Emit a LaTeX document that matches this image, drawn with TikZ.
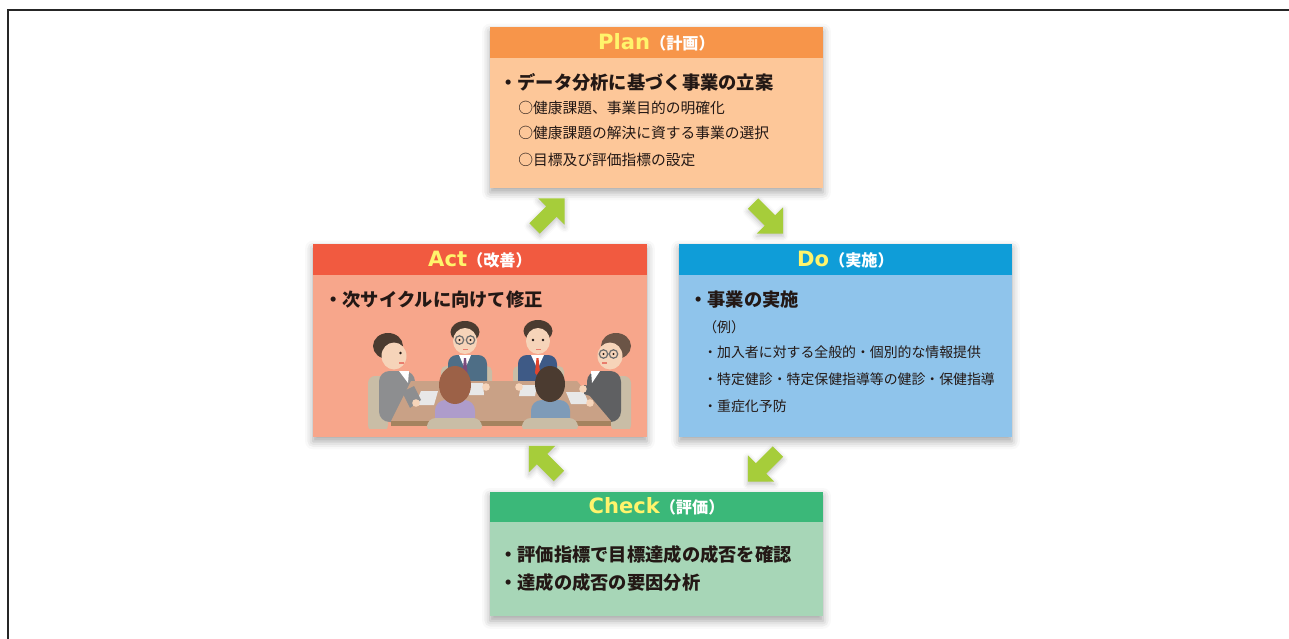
\documentclass[tikz,border=0pt]{standalone}
\usepackage{fontspec}
\setmainfont{Noto Sans CJK JP}
\newfontfamily\latinhead{DejaVu Sans}
\usetikzlibrary{shapes.arrows,shadows.blur}

% phase colours
\definecolor{planhead}{HTML}{F7954A}
\definecolor{planbody}{HTML}{FDC799}
\definecolor{acthead}{HTML}{F15A40}
\definecolor{actbody}{HTML}{F7A68B}
\definecolor{dohead}{HTML}{0F9DD8}
\definecolor{dobody}{HTML}{8FC4EB}
\definecolor{checkhead}{HTML}{3BB879}
\definecolor{checkbody}{HTML}{A7D6B7}
\definecolor{cyclegreen}{HTML}{A6CD3A}
\definecolor{titleyellow}{HTML}{FFF46C}
\definecolor{textdark}{HTML}{231815}
% meeting scene colours
\definecolor{chairbeige}{HTML}{C9BDA6}
\definecolor{tabletan}{HTML}{C9A186}
\definecolor{tableedge}{HTML}{A5835F}
\definecolor{paper}{HTML}{E8E8E8}
\definecolor{skin}{HTML}{F6D4B9}
\definecolor{hairdark}{HTML}{4B3B30}
\definecolor{hairbrown}{HTML}{9C6147}
\definecolor{hairgrey}{HTML}{6B5446}
\definecolor{suitteal}{HTML}{4E6E86}
\definecolor{suitnavy}{HTML}{3E5A86}
\definecolor{suitgrey}{HTML}{8D8E90}
\definecolor{suitdark}{HTML}{5F6062}
\definecolor{lavender}{HTML}{AE9CCB}
\definecolor{bluegrey}{HTML}{7E9BB8}
\definecolor{tiepurple}{HTML}{7A4C7C}
\definecolor{tiered}{HTML}{E0452F}
\definecolor{glassgrey}{HTML}{6E6E6E}

\newcommand{\phasetitle}[2]{{\latinhead\bfseries\fontsize{12}{13}\selectfont\color{titleyellow}#1}{\bfseries\fontsize{9.2}{10}\selectfont\color{white}#2}}

\tikzset{
  phasebox/.style={minimum width=6.66cm, inner sep=0,
    blur shadow={shadow xshift=0pt, shadow yshift=-2.5pt, shadow blur radius=4.5pt, shadow opacity=35}},
  phasehead/.style={anchor=north, minimum width=6.66cm, minimum height=0.61cm, inner sep=0},
  bullet/.style={anchor=west, inner sep=0, text=textdark, font=\bfseries\fontsize{10.4}{12}\selectfont},
  item/.style={anchor=west, inner sep=0, text=textdark, font=\fontsize{8.4}{10}\selectfont},
  smallitem/.style={anchor=west, inner sep=0, text=textdark, font=\fontsize{7.9}{9}\selectfont},
  cyclearrow/.style={single arrow, fill=cyclegreen, inner xsep=0pt, inner ysep=0.14cm,
    minimum height=0.85cm, minimum width=0.73cm, single arrow head extend=0.225cm,
    single arrow tip angle=90, single arrow head indent=0pt,
    blur shadow={shadow xshift=0pt, shadow yshift=-1.5pt, shadow blur radius=3pt, shadow opacity=25}}
}

\begin{document}
\begin{tikzpicture}[x=0.02cm, y=-0.02cm]
\useasboundingbox (0,0) rectangle (1289,639);
% frame
\draw[line width=0.04cm, black!85] (8,639) -- (8,10) -- (1289,10);

% Plan
\node[phasebox, fill=planbody, minimum height=3.22cm] (plan) at (656.5,107.5) {};
\node[phasehead, fill=planhead] (planhd) at (plan.north) {\phasetitle{Plan}{（計画）}};
\node[bullet] (plan1) at (499,82) {・データ分析に基づく事業の立案};
\node[item] (plan2) at (518,108) {○健康課題、事業目的の明確化};
\node[item] (plan3) at (518,133) {○健康課題の解決に資する事業の選択};
\node[item] (plan4) at (518,160) {○目標及び評価指標の設定};

% Do
\node[phasebox, fill=dobody, minimum height=3.86cm] (do) at (845.5,340.5) {};
\node[phasehead, fill=dohead] (dohd) at (do.north) {\phasetitle{Do}{（実施）}};
\node[bullet] (do1) at (689,300) {・事業の実施};
\node[smallitem] (do2) at (703,327) {（例）};
\node[smallitem] (do3) at (703,352) {・加入者に対する全般的・個別的な情報提供};
\node[smallitem] (do4) at (703,379) {・特定健診・特定保健指導等の健診・保健指導};
\node[smallitem] (do5) at (703,406) {・重症化予防};

% Check
\node[phasebox, fill=checkbody, minimum height=2.5cm] (check) at (656.5,554) {};
\node[phasehead, fill=checkhead] (checkhd) at (check.north) {\phasetitle{Check}{（評価）}};
\node[bullet] (check1) at (499,555) {・評価指標で目標達成の成否を確認};
\node[bullet] (check2) at (499,583) {・達成の成否の要因分析};

% Act
\node[phasebox, fill=actbody, minimum width=6.68cm, minimum height=3.86cm] (act) at (480,340.5) {};
\node[phasehead, fill=acthead, minimum width=6.68cm] (acthd) at (act.north) {\phasetitle{Act}{（改善）}};
\node[bullet] (act1) at (324,300) {・次サイクルに向けて修正};

% meeting scene
\begin{scope}
\clip (360,318) rectangle (640,428);
% chairs behind
\fill[chairbeige, rounded corners=4] (368,376) rectangle (388,432);
\fill[chairbeige, rounded corners=4] (611,376) rectangle (631,432);
\fill[chairbeige, rounded corners=3] (441,366) rectangle (492,386);
\fill[chairbeige, rounded corners=3] (513,366) rectangle (564,386);
% back left, glasses
\fill[suitteal, rounded corners=5] (448,355) rectangle (487,395);
\fill[white] (459,355) -- (471,355) -- (465,369) -- cycle;
\fill[tiepurple] (464,358) -- (466,358) -- (467.5,373) -- (465,376) -- (462.5,373) -- cycle;
\fill[hairdark] (465,332) ellipse (14.5 and 11);
\fill[skin] (465,341) ellipse (12 and 13);
\draw[glassgrey, line width=0.7pt] (459.5,340) circle (4.2) (470.5,340) circle (4.2);
\fill[textdark] (459.5,340) circle (1.1) (470.5,340) circle (1.1);
\fill[tiered!70] (462.5,348.5) rectangle (467.5,350);
% back right
\fill[suitnavy, rounded corners=5] (518,355) rectangle (557,395);
\fill[white] (531,355) -- (544,355) -- (537.5,369) -- cycle;
\fill[tiered] (536.5,358) -- (538.5,358) -- (540,373) -- (537.5,376) -- (535,373) -- cycle;
\fill[hairdark] (538,331) ellipse (14.5 and 11);
\fill[skin] (538,341) ellipse (12 and 13);
\fill[textdark] (533,340) circle (1.3) (543,340) circle (1.3);
\fill[tiered!70] (535.5,348.5) rectangle (540.5,350);
% left side
\fill[suitgrey, rounded corners=6] (379,371) rectangle (415,422);
\fill[white] (399,371) -- (409,371) -- (408,383) -- cycle;
\fill[hairdark] (388,346) ellipse (15 and 13);
\fill[skin] (394,356) ellipse (12.5 and 13.5);
\fill[textdark] (400.5,353) circle (1.3);
\fill[tiered!70] (399,362) rectangle (404,363.5);
% right side, glasses
\fill[suitdark, rounded corners=6] (587,371) rectangle (621,422);
\fill[white] (591,371) -- (600,371) -- (592,383) -- cycle;
\fill[hairgrey] (616,346) ellipse (15 and 13);
\fill[skin] (610,356) ellipse (12.5 and 13.5);
\draw[glassgrey, line width=0.7pt] (603.5,354) circle (4.2) (613.5,354) circle (4.2);
\fill[textdark] (603.5,354) circle (1.1) (613.5,354) circle (1.1);
\fill[tiered!70] (602,362) rectangle (607,363.5);
% table
\fill[tabletan] (411,381) -- (577,381) -- (611,421) -- (391,421) -- cycle;
\fill[tableedge] (391,421) rectangle (611,426);
% papers
\fill[paper] (421,391) -- (438,391) -- (434,405) -- (415,405) -- cycle;
\fill[paper] (467,383) -- (483,383) -- (484,395) -- (468,395) -- cycle;
\fill[paper] (521,385) -- (537,385) -- (535,396) -- (519,396) -- cycle;
\fill[paper] (566,392) -- (584,392) -- (589,404) -- (571,404) -- cycle;
% hands
\fill[suitgrey] (402,392) -- (414,386) -- (421,400) -- (410,408) -- cycle;
\fill[skin] (416,403) circle (3.8);
\fill[skin] (486,387) circle (3.8) (519,387) circle (3.8);
\fill[suitdark] (596,387) -- (584,385) -- (584,394) -- (597,398) -- cycle;
\fill[skin] (583,389) circle (3.8) (590,403) circle (3.8);
% front, backs to us
\fill[lavender, rounded corners=6] (435,400) rectangle (475,430);
\fill[hairbrown] (455,385) ellipse (16 and 19);
\fill[bluegrey, rounded corners=6] (531,400) rectangle (570,430);
\fill[hairdark] (550,384) ellipse (15 and 18);
\fill[chairbeige, rounded corners=5] (427,418) rectangle (482,434);
\fill[chairbeige, rounded corners=5] (522,418) rectangle (578,434);
\end{scope}

% cycle arrows
\node[cyclearrow, rotate=45] (actplan) at (547,216) {};
\node[cyclearrow, rotate=-45] (plando) at (765.5,216) {};
\node[cyclearrow, rotate=-135] (docheck) at (765.5,464) {};
\node[cyclearrow, rotate=135] (checkact) at (546.5,463.5) {};
\end{tikzpicture}
\end{document}
